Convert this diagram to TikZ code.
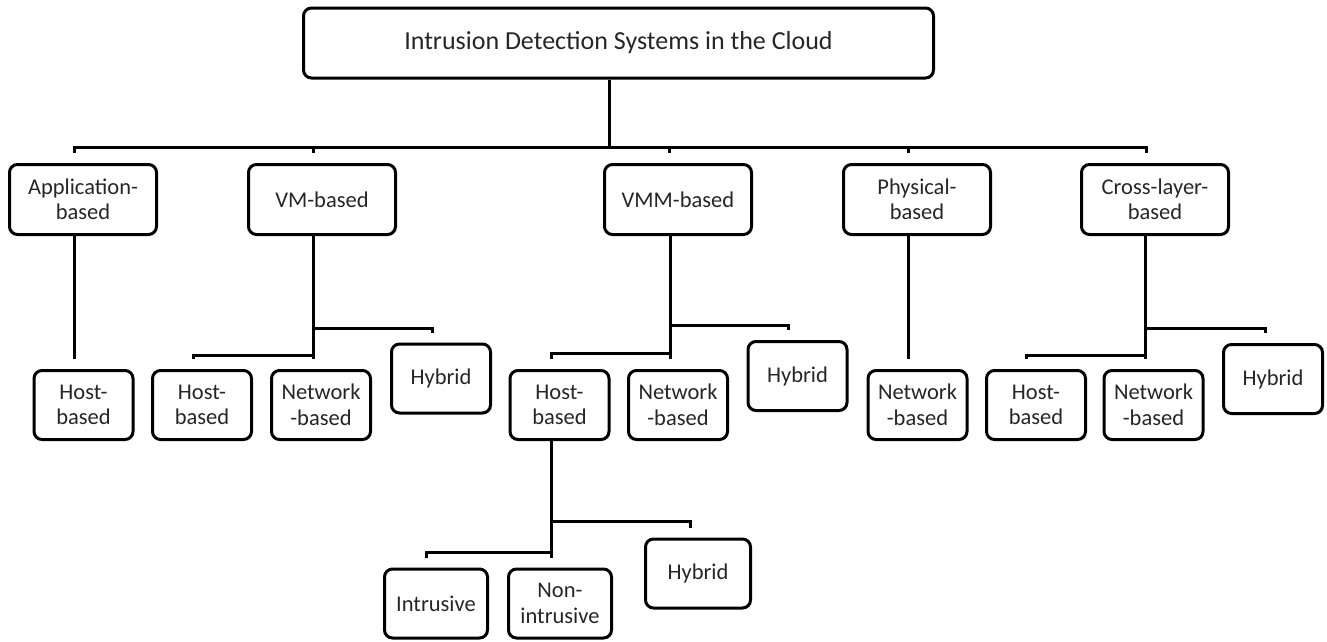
\documentclass[tikz,border=0pt]{standalone}
\usepackage{fontspec}
\setmainfont{Carlito}
\usepackage{tikz}
\usetikzlibrary{positioning,calc}

\tikzset{
    idsbox/.style={draw, line width=3pt, rounded corners=8pt, align=center,
        inner sep=1pt, text=black!85, font=\fontsize{22.5}{25.5}\selectfont,
        minimum width=147pt, minimum height=70pt},
    subbox/.style={idsbox, minimum width=99pt, minimum height=69pt},
    link/.style={line width=3pt}
}

\begin{document}
\begin{tikzpicture}[x=1pt,y=-1pt]
        \useasboundingbox (0,0) rectangle (1327,641);

        %% Root
        \node[idsbox, minimum width=630pt, font=\fontsize{26}{26}\selectfont] (root) at (618.5,43) {Intrusion Detection Systems in the Cloud};

        %% First level
        \node[idsbox] (app)   at (83,199.5)   {Application-\\based};
        \node[idsbox] (vm)    at (322,199.5)  {VM-based};
        \node[idsbox] (vmm)   at (678,199.5)  {VMM-based};
        \node[idsbox] (phys)  at (917,199.5)  {Physical-\\based};
        \node[idsbox] (cross) at (1155,199.5) {Cross-layer-\\based};

        %% Second level
        \node[subbox] (apphost)   at (83.5,405)   {Host-\\based};
        \node[subbox] (vmhost)    at (202,405)    {Host-\\based};
        \node[subbox] (vmnet)     at (321,405)    {Network\\-based};
        \node[subbox] (vmhyb)     at (441,378.5)  {Hybrid};
        \node[subbox] (vmmhost)   at (559.5,405)  {Host-\\based};
        \node[subbox] (vmmnet)    at (678,405)    {Network\\-based};
        \node[subbox] (vmmhyb)    at (797.5,376)  {Hybrid};
        \node[subbox] (physnet)   at (917.5,405)  {Network\\-based};
        \node[subbox] (crosshost) at (1036,405)   {Host-\\based};
        \node[subbox] (crossnet)  at (1153.5,405) {Network\\-based};
        \node[subbox] (crosshyb)  at (1273,379)   {Hybrid};

        %% Third level
        \node[subbox, minimum width=103pt] (intr)    at (436,603.5) {Intrusive};
        \node[subbox, minimum width=103pt] (nonintr) at (560,603.5) {Non-\\intrusive};
        \node[subbox, minimum width=105pt] (hyb)     at (698,573.5) {Hybrid};

        %% Root to first level
        \draw[link] ($(root.south)+(-9,0)$) -- ++(0,68) -| ($(app.north)+(-9,-10)$);
        \draw[link] ($(root.south)+(-9,0)$) -- ++(0,68) -| ($(vm.north)+(-9,-10)$);
        \draw[link] ($(root.south)+(-9,0)$) -- ++(0,68) -| ($(vmm.north)+(-9,-10)$);
        \draw[link] ($(root.south)+(-9,0)$) -- ++(0,68) -| ($(phys.north)+(-9,-10)$);
        \draw[link] ($(root.south)+(-9,0)$) -- ++(0,68) -| ($(cross.north)+(-9,-10)$);

        %% Application and Physical
        \draw[link] ($(app.south)+(-9,0)$) -- ($(apphost.north)+(-9.5,-10)$);
        \draw[link] ($(phys.south)+(-9,0)$) -- ($(physnet.north)+(-9.5,-10)$);

        %% VM
        \draw[link] ($(vm.south)+(-9,0)$) -- ++(0,119) -| ($(vmhost.north)+(-9,-10)$);
        \draw[link] ($(vm.south)+(-9,0)$) -- ($(vmnet.north)+(-8,-10)$);
        \draw[link] ($(vm.south)+(-9,0)$) -- ++(0,92) -| ($(vmhyb.north)+(-9,-10)$);

        %% VMM
        \draw[link] ($(vmm.south)+(-8,0)$) -- ++(0,117) -| ($(vmmhost.north)+(-8.5,-10)$);
        \draw[link] ($(vmm.south)+(-8,0)$) -- ($(vmmnet.north)+(-8,-10)$);
        \draw[link] ($(vmm.south)+(-8,0)$) -- ++(0,89) -| ($(vmmhyb.north)+(-9.5,-10)$);

        %% Cross-layer
        \draw[link] ($(cross.south)+(-10,0)$) -- ++(0,119) -| ($(crosshost.north)+(-10,-10)$);
        \draw[link] ($(cross.south)+(-10,0)$) -- ($(crossnet.north)+(-8.5,-10)$);
        \draw[link] ($(cross.south)+(-10,0)$) -- ++(0,92) -| ($(crosshyb.north)+(-8,-10)$);

        %% VMM host-based
        \draw[link] ($(vmmhost.south)+(-8.5,0)$) -- ++(0,111) -| ($(intr.north)+(-10,-10)$);
        \draw[link] ($(vmmhost.south)+(-8.5,0)$) -- ($(nonintr.north)+(-9,-10)$);
        \draw[link] ($(vmmhost.south)+(-8.5,0)$) -- ++(0,80) -| ($(hyb.north)+(-8,-10)$);
\end{tikzpicture}
\end{document}
